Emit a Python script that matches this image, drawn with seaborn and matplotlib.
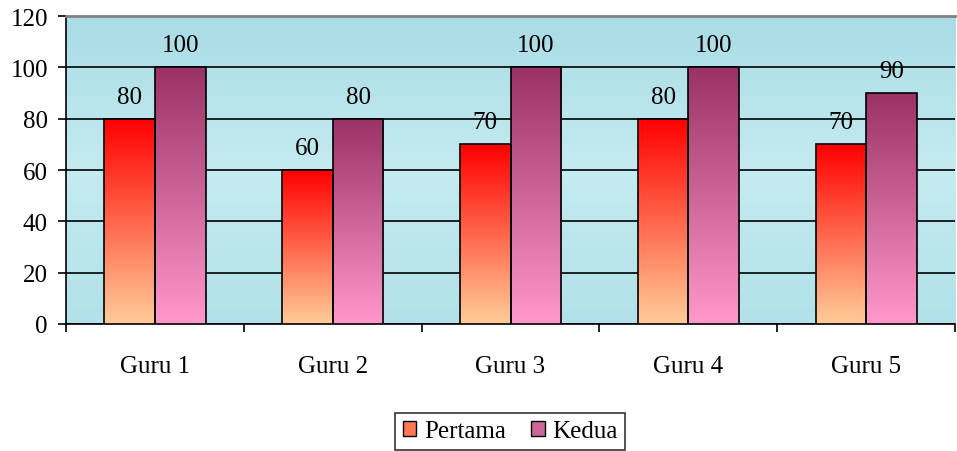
import numpy as np
import pandas as pd
import matplotlib
matplotlib.use('Agg')
import matplotlib.pyplot as plt
import matplotlib.colors as mcolors
from matplotlib.patches import Patch
import seaborn as sns

# data
guru = ['Guru 1', 'Guru 2', 'Guru 3', 'Guru 4', 'Guru 5']
pertama = [80, 60, 70, 80, 70]
kedua = [100, 80, 100, 100, 90]

df = pd.DataFrame({
    'Guru': guru * 2,
    'Nilai': pertama + kedua,
    'Seri': ['Pertama'] * len(guru) + ['Kedua'] * len(guru),
})

# gradient colours (top -> bottom)
grad = {
    'Pertama': ('#FF0000', '#FFCC99'),
    'Kedua': ('#993366', '#FF99CC'),
}

sns.set_style('white')
plt.rcParams['font.family'] = ['Liberation Serif', 'DejaVu Serif']
plt.rcParams['text.color'] = 'black'
plt.rcParams['xtick.color'] = 'black'
plt.rcParams['ytick.color'] = 'black'

fs = 18

fig = plt.figure(figsize=(9.57, 4.52), dpi=100)
ax = fig.add_axes([0.069, 0.281, 0.929, 0.681])

ax.set_facecolor('#B8E4EB')
# soft background shading
bg = np.linspace(0, 1, 256).reshape(-1, 1)
bg_cmap = mcolors.LinearSegmentedColormap.from_list('bg', ['#A9DCE5', '#C4EBF0', '#B2E1E9'])
ax.imshow(bg, cmap=bg_cmap, aspect='auto', extent=[-0.5, 4.5, 0, 120], zorder=0)

sns.barplot(data=df, x='Guru', y='Nilai', hue='Seri', width=0.57,
            palette=['#FF6644', '#CC6699'], edgecolor='black', linewidth=1.2,
            ax=ax, zorder=3, legend=False)

# replace flat fills with gradients
for container, name in zip(ax.containers, ['Pertama', 'Kedua']):
    cmap = mcolors.LinearSegmentedColormap.from_list(name, [grad[name][1], grad[name][0]])
    g = np.linspace(0, 1, 256).reshape(-1, 1)
    for bar in container:
        x0, y0 = bar.get_x(), bar.get_y()
        w, h = bar.get_width(), bar.get_height()
        im = ax.imshow(g, cmap=cmap, origin='lower', aspect='auto',
                       extent=[x0, x0 + w, y0, y0 + h], zorder=3)
        im.set_clip_path(bar)
        bar.set_facecolor('none')
        bar.set_zorder(4)
    ax.bar_label(container, padding=8, fontsize=fs, color='black')

ax.set_xlim(-0.5, 4.5)
ax.set_ylim(0, 120)
ax.set_yticks(range(0, 121, 20))
ax.grid(axis='y', color='black', linewidth=1.2, zorder=1)
ax.set_axisbelow(True)

ax.set_xticks(np.arange(-0.5, 4.6, 1))
ax.set_xticklabels([])
ax.set_xticks(range(len(guru)), minor=True)
ax.set_xticklabels(guru, minor=True)
ax.tick_params(axis='x', which='major', direction='out', length=6, width=1.2, color='black', bottom=True)
ax.tick_params(axis='x', which='minor', length=0, pad=22, labelsize=fs)
ax.tick_params(axis='y', direction='out', length=6, width=1.2, color='black', left=True, labelsize=fs, pad=7)
ax.set_xlabel('')
ax.set_ylabel('')

for s in ['left', 'bottom']:
    ax.spines[s].set_color('black')
    ax.spines[s].set_linewidth(1.2)
ax.spines['top'].set_color('#808080')
ax.spines['top'].set_linewidth(2)
ax.spines['right'].set_visible(False)

handles = [Patch(facecolor='#FF7755', edgecolor='black', label='Pertama'),
           Patch(facecolor='#CC6699', edgecolor='black', label='Kedua')]
leg = fig.legend(handles=handles, loc='center', bbox_to_anchor=(0.533, 0.044), ncol=2,
                 frameon=True, fancybox=False, edgecolor='black', fontsize=fs,
                 handlelength=0.55, handleheight=0.55, handletextpad=0.3,
                 columnspacing=1.0, borderpad=0.3, borderaxespad=0)
leg.get_frame().set_linewidth(1.2)

fig.savefig('out.png', dpi=100)
